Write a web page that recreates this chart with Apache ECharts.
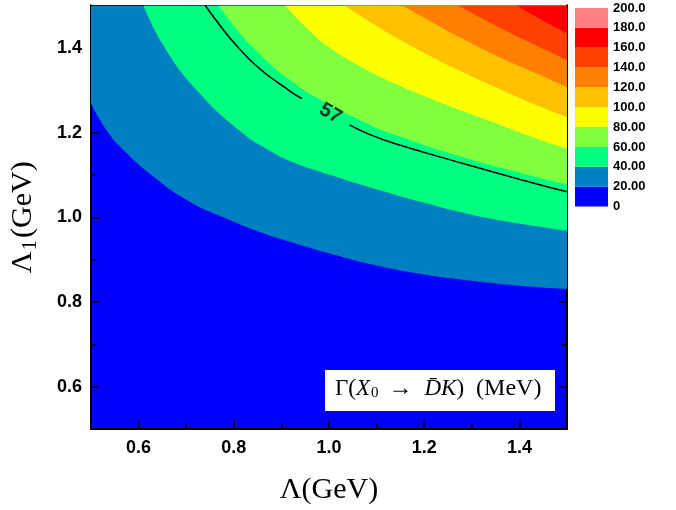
<!DOCTYPE html>
<html>
<head>
<meta charset="utf-8">
<script src="https://cdn.jsdelivr.net/npm/echarts@6/dist/echarts.min.js"></script>
<style>
  html, body { margin: 0; padding: 0; background: #fff; }
  #chart { width: 676px; height: 510px; }
</style>
</head>
<body>
<div id="chart"></div>
<script>
// 等值线边界 [Λ, Λ1]
const edge20 = [[0.5,1.268],[0.536,1.2],[0.568,1.159],[0.627,1.1],[0.701,1.041],[0.778,1.0],[0.862,0.962],[0.918,0.942],[1.0,0.915],[1.1,0.886],[1.2,0.865],[1.3,0.850],[1.4,0.838],[1.5,0.830]];
const edge40 = [[0.61,1.5],[0.655,1.4],[0.722,1.3],[0.817,1.2],[0.876,1.157],[0.918,1.133],[1.0,1.101],[1.1,1.066],[1.2,1.034],[1.3,1.006],[1.4,0.985],[1.5,0.968]];
const edge60 = [[0.768,1.5],[0.813,1.434],[0.841,1.4],[0.883,1.355],[0.918,1.324],[0.974,1.282],[1.086,1.218],[1.138,1.195],[1.278,1.143],[1.419,1.100],[1.5,1.078]];
const edge80 = [[0.908,1.5],[0.955,1.445],[0.998,1.403],[1.068,1.355],[1.138,1.316],[1.208,1.283],[1.278,1.252],[1.348,1.223],[1.418,1.193],[1.5,1.162]];
const edge100 = [[1.033,1.5],[1.068,1.474],[1.138,1.426],[1.208,1.383],[1.278,1.344],[1.348,1.308],[1.418,1.273],[1.5,1.237]];
const edge120 = [[1.155,1.5],[1.208,1.466],[1.278,1.423],[1.348,1.383],[1.418,1.348],[1.5,1.307]];
const edge140 = [[1.271,1.5],[1.348,1.454],[1.418,1.415],[1.5,1.371]];
const edge160 = [[1.394,1.5],[1.453,1.462],[1.5,1.434]];

// 57 MeV 等值线（中间断开放标签）
const line57a = [[0.74,1.5],[0.775,1.447],[0.806,1.405],[0.855,1.35],[0.918,1.298],[0.943,1.28]];
const line57b = [[1.043,1.218],[1.086,1.195],[1.138,1.174],[1.278,1.128],[1.419,1.084],[1.5,1.060]];
const label57 = [[1.003,1.245]];

// 色标
const levels = [0, 20, 40, 60, 80, 100, 120, 140, 160, 180, 200];
const levelLabels = ['0','20.00','40.00','60.00','80.00','100.0','120.0','140.0','160.0','180.0','200.0'];
const bandColors = ['#0000ff','#0080c0','#00ff80','#80ff40','#ffff00','#ffc000','#ff8000','#ff4000','#ff0000','#ff8080'];

// 刻度
const majorTicks = [0.6, 0.8, 1.0, 1.2, 1.4];
const minorTicks = [0.7, 0.9, 1.1, 1.3];

const chart = echarts.init(document.getElementById('chart'));

const serif = 'Liberation Serif';
const tickFont = { color: '#000', fontFamily: 'Liberation Sans', fontWeight: 'bold', fontSize: 18 };

// 生成一根坐标轴
function axis(pos, ticks, len, extra) {
  return Object.assign({
    type: 'value', gridIndex: 0, position: pos, min: 0.5, max: 1.5,
    axisLine: { show: true, onZero: false, lineStyle: { color: '#000', width: 2 } },
    axisTick: { show: true, inside: true, length: len, customValues: ticks, lineStyle: { color: '#000', width: 1.5 } },
    axisLabel: { show: false },
    splitLine: { show: false }
  }, extra || {});
}

const edges = [edge20, edge40, edge60, edge80, edge100, edge120, edge140, edge160];
const series = edges.map((d, i) => ({
  type: 'line',
  xAxisIndex: 0, yAxisIndex: 0,
  data: d,
  smooth: 0.5,
  symbol: 'none',
  lineStyle: { width: 0 },
  areaStyle: { color: bandColors[i + 1], origin: 'end', opacity: 1 },
  silent: true
}));

[line57a, line57b].forEach(d => series.push({
  type: 'line', xAxisIndex: 0, yAxisIndex: 0,
  data: d, smooth: 0.5, symbol: 'none',
  lineStyle: { color: '#000', width: 1.5 }
}));

series.push({
  type: 'scatter', xAxisIndex: 0, yAxisIndex: 0,
  data: label57, symbolSize: 2,
  itemStyle: { color: 'rgba(0,0,0,0)' },
  label: {
    show: true, position: 'inside', formatter: '57', rotate: -30,
    color: '#000', fontFamily: 'Liberation Sans', fontWeight: 'bold', fontSize: 20
  },
  z: 5
});

// 色标条
bandColors.forEach(c => series.push({
  type: 'bar', xAxisIndex: 4, yAxisIndex: 4, stack: 'bar',
  data: [levels[1] - levels[0]],
  barWidth: '100%',
  itemStyle: { color: c },
  silent: true
}));

const option = {
  animation: false,
  grid: [
    { left: 91, top: 5.5, width: 476, height: 424, show: true, backgroundColor: bandColors[0], borderWidth: 0 },
    { left: 575, top: 8, width: 33, height: 198.5 }
  ],
  xAxis: [
    axis('bottom', majorTicks, 8, {
      axisLabel: Object.assign({ show: true, customValues: majorTicks, margin: 10, formatter: v => v.toFixed(1) }, tickFont),
      name: 'Λ(GeV)', nameLocation: 'middle', nameGap: 46,
      nameTextStyle: { color: '#000', fontFamily: serif, fontSize: 30 }
    }),
    axis('bottom', minorTicks, 5),
    axis('top', majorTicks, 8),
    axis('top', minorTicks, 5),
    { type: 'category', gridIndex: 1, data: ['c'], show: false }
  ],
  yAxis: [
    axis('left', majorTicks, 8, {
      axisLabel: Object.assign({ show: true, customValues: majorTicks, margin: 9, formatter: v => v.toFixed(1) }, tickFont),
      name: '{a|Λ}{b|1}{a|(GeV)}', nameLocation: 'middle', nameGap: 50,
      nameTextStyle: {
        color: '#000',
        rich: {
          a: { fontFamily: serif, fontSize: 30, color: '#000' },
          b: { fontFamily: serif, fontSize: 21, color: '#000', padding: [14, 2, 0, 1] }
        }
      }
    }),
    axis('left', minorTicks, 5),
    axis('right', majorTicks, 8),
    axis('right', minorTicks, 5),
    {
      type: 'value', gridIndex: 1, position: 'right', min: 0, max: 200, interval: 20,
      axisLine: { show: false }, axisTick: { show: false }, splitLine: { show: false },
      axisLabel: {
        margin: 5, color: '#000', fontFamily: 'Liberation Sans', fontWeight: 'bold', fontSize: 13,
        formatter: v => levelLabels[levels.indexOf(Math.round(v))]
      }
    }
  ],
  graphic: [
    {
      type: 'rect', left: 325, top: 370, z: 100,
      shape: { width: 230, height: 41 },
      style: { fill: '#fff' }
    },
    {
      type: 'text', left: 335, top: 377, z: 101,
      style: {
        text: '{n|Γ(}{i|X}{s|0}{a|→}{i|D̄K}{n|)}{m|(MeV)}',
        rich: {
          n: { fontFamily: serif, fontSize: 23, fill: '#000' },
          i: { fontFamily: serif, fontSize: 23, fontStyle: 'italic', fill: '#000' },
          s: { fontFamily: serif, fontSize: 15, fill: '#000', padding: [9, 0, 0, 1] },
          a: { fontFamily: serif, fontSize: 24, fill: '#000', padding: [0, 12, 0, 10] },
          m: { fontFamily: serif, fontSize: 24, fill: '#000', padding: [0, 0, 0, 12] }
        }
      }
    }
  ],
  series: series
};

chart.setOption(option);
</script>
</body>
</html>
